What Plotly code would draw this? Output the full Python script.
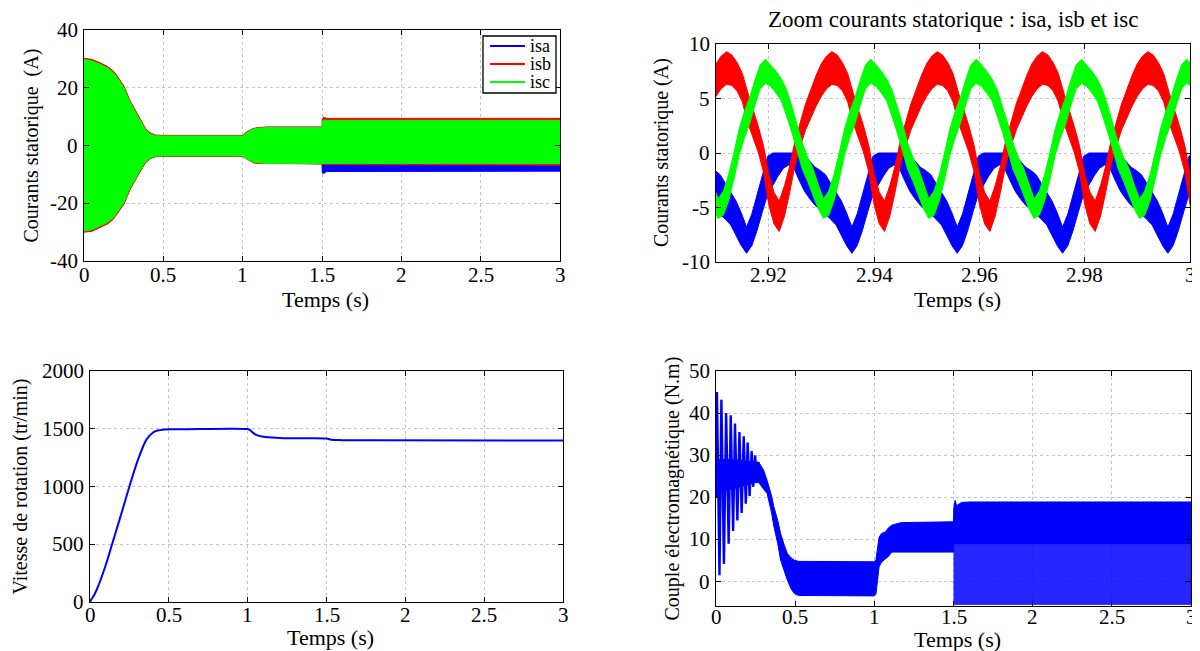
import numpy as np
import plotly.graph_objects as go

FONT = "Liberation Serif, Times New Roman, serif"

# ---------------- Courants statoriques 0-3 s (enveloppes lues) ----------------
t_is = [0, 0.05, 0.08, 0.1, 0.15, 0.185, 0.2, 0.237, 0.25, 0.29, 0.3, 0.35, 0.39, 0.42, 0.45,
        0.5, 1.0, 1.025, 1.067, 1.1, 1.15, 1.5, 1.502, 1.51, 1.53, 1.55, 3.0]
isa_up = [30.0, 29.6, 28.9, 28.5, 27.0, 25.5, 24.6, 21.6, 20.5, 15.3, 14.3, 9.3, 5.5, 4.2, 3.5,
          3.4, 3.4, 4.6, 5.8, 6.1, 6.3, 6.3, 6.3, 6.3, 6.3, 6.3, 6.3]
isa_lo = [-29.9, -29.5, -28.8, -28.3, -26.9, -25.3, -24.3, -21.3, -20.3, -15.1, -14.1, -9.2, -5.7, -4.4, -3.8,
          -3.7, -3.7, -4.7, -5.9, -6.1, -6.3, -6.3, -9.5, -9.7, -9.0, -8.9, -8.9]
isb_up = [30.2, 29.8, 29.1, 28.7, 27.3, 25.8, 24.8, 21.8, 20.7, 15.5, 14.5, 9.5, 5.7, 4.3, 3.6,
          3.5, 3.5, 4.7, 5.9, 6.2, 6.4, 6.4, 9.2, 9.8, 9.4, 9.4, 9.4]
isb_lo = [-30.0, -29.7, -29.0, -28.5, -27.1, -25.5, -24.5, -21.5, -20.5, -15.3, -14.3, -9.4, -5.8, -4.5, -3.9,
          -3.8, -3.8, -4.8, -6.0, -6.2, -6.4, -6.4, -6.6, -6.8, -6.8, -6.8, -6.8]
isc_up = [29.8, 29.3, 28.6, 28.2, 26.8, 25.3, 24.3, 21.3, 20.2, 15.0, 14.0, 9.0, 5.3, 4.0, 3.4,
          3.3, 3.3, 4.5, 5.7, 6.0, 6.2, 6.2, 8.4, 8.8, 8.6, 8.7, 8.7]
isc_lo = [-29.6, -29.2, -28.5, -28.0, -26.6, -25.0, -24.0, -21.0, -20.0, -14.8, -13.8, -9.0, -5.5, -4.3, -3.7,
          -3.6, -3.6, -4.6, -5.8, -6.0, -6.2, -6.2, -6.2, -6.3, -6.3, -6.3, -6.3]

# ---------------- Zoom courants (un cycle de 20 ms, pas 1 ms) ----------------
T_cycle_ms = 20
isa_t0 = 2.9158   # minimum de isa
isa_cyc_up = [-6.8, -5.6, -3.9, -2.0, -0.3, 0.0, 0.0, 0.0, 0.0, 0.0, 0.0, -0.2, -0.8, -1.3, -1.6, -2.0, -2.8, -3.6, -4.4, -5.5]
isa_cyc_lo = [-9.2, -8.5, -7.1, -5.4, -3.8, -2.9, -2.1, -1.4, -1.1, -1.4, -2.5, -3.5, -4.2, -4.8, -5.2, -5.6, -6.1, -6.6, -7.5, -8.5]
isb_t0 = 2.9120   # maximum de isb
isb_cyc_up = [9.3, 9.0, 8.3, 7.3, 5.6, 4.1, 2.5, 0.7, -1.9, -3.6, -4.4, -3.0, -1.2, 1.1, 2.8, 4.5, 5.8, 7.1, 8.2, 8.9]
isb_cyc_lo = [6.3, 6.2, 5.7, 4.7, 2.8, 1.5, 0.1, -1.7, -4.7, -6.5, -7.2, -5.8, -3.6, -1.1, 0.6, 2.1, 3.2, 4.3, 5.2, 5.9]
isc_t0 = 2.9104   # minimum de isc
isc_cyc_up = [-4.2, -3.5, -2.0, 0.0, 2.2, 3.8, 5.1, 6.7, 8.1, 8.6, 8.1, 7.5, 6.8, 5.8, 4.3, 2.7, 0.9, -0.4, -1.4, -2.9]
isc_cyc_lo = [-6.0, -5.7, -4.4, -2.4, -0.2, 1.4, 2.7, 4.4, 5.9, 6.4, 6.1, 5.5, 4.8, 3.4, 1.9, 0.3, -1.5, -2.6, -3.8, -5.1]

# ---------------- Vitesse ----------------
t_w = [0, 0.01, 0.03, 0.05, 0.1, 0.14, 0.2, 0.25, 0.3, 0.335, 0.36, 0.4, 0.43, 0.46, 0.5, 0.6, 1.0,
       1.01, 1.03, 1.05, 1.1, 1.2, 1.3, 1.5, 1.53, 1.6, 1.8, 3.0]
w = [0, 25, 70, 130, 320, 500, 770, 1000, 1215, 1340, 1410, 1468, 1485, 1492, 1495, 1496, 1497,
     1493, 1470, 1450, 1430, 1420, 1417, 1415, 1405, 1401, 1400, 1399]

# ---------------- Couple ----------------
t_ce_spk = [0.0, 0.006, 0.022, 0.034, 0.05, 0.064, 0.08, 0.093, 0.108, 0.12, 0.135, 0.148, 0.162,
            0.175, 0.188, 0.2, 0.212, 0.225, 0.235, 0.247, 0.258, 0.27, 0.28]
ce_spk = [20, 45, 1.5, 43.2, 4.2, 40, 9, 39.5, 12, 37.5, 14.5, 35.5, 16.3, 34.5, 18.5, 33, 20.3,
          31, 22.5, 30, 23.5, 28.3, 24]
t_ce = [0.0, 0.05, 0.1, 0.15, 0.2, 0.25, 0.27, 0.3, 0.323, 0.35, 0.366, 0.39, 0.408, 0.43, 0.45,
        0.475, 0.494, 0.52, 1.0, 1.01, 1.03, 1.045, 1.07, 1.09, 1.11, 1.17, 1.5, 1.502, 1.51,
        1.52, 1.55, 1.6, 3.0]
ce_up = [29, 29, 29, 28.8, 28.5, 28.5, 28.3, 26.5, 24.0, 20.5, 17.7, 14.5, 11.4, 8.8, 6.7,
         5.6, 5.1, 4.8, 4.7, 5.2, 10.5, 11.4, 11.8, 12.8, 13.4, 14.0, 14.2, 17.5, 19.3,
         18.0, 18.8, 18.9, 18.9]
ce_lo = [21, 21.5, 22, 22.5, 23, 23.5, 23.5, 22.0, 20.9, 16.5, 13.0, 9.0, 5.1, 2.5, 0.4,
         -1.8, -2.8, -3.3, -3.4, -3.0, 3.5, 4.6, 5.3, 6.0, 7.0, 7.0, 7.0, 9.0, 9.0,
         9.0, 9.0, 9.0, 9.0]
t_ce_sp = [1.5, 3.0]
ce_sp_up = [9.5, 9.5]
ce_sp_lo = [-5.4, -5.4]

# tick labels
tl_y_vals = [-40, -20, 0, 20, 40]
tl_y_text = ["-40", "-20", "0", "20", "40"]
tr_y_vals = [-10, -5, 0, 5, 10]
tr_y_text = ["-10", "-5", "0", "5", "10"]
tr_x_vals = [2.92, 2.94, 2.96, 2.98, 3.0]
tr_x_text = ["2.92", "2.94", "2.96", "2.98", "3"]
t_x_vals = [0, 0.5, 1, 1.5, 2, 2.5, 3]
t_x_text = ["0", "0.5", "1", "1.5", "2", "2.5", "3"]
bl_y_vals = [0, 500, 1000, 1500, 2000]
bl_y_text = ["0", "500", "1000", "1500", "2000"]
br_y_vals = [0, 10, 20, 30, 40, 50]
br_y_text = ["0", "10", "20", "30", "40", "50"]
legend_names = ["isa", "isb", "isc"]

BLUE = "rgb(0,0,255)"
RED = "rgb(255,0,0)"
GREEN = "rgb(0,255,0)"
legend_colors = [BLUE, RED, GREEN]

fig = go.Figure()


def band(t, up, lo, color, xa, ya, fillcolor=None):
    t = list(t)
    fig.add_trace(go.Scatter(
        x=t + t[::-1], y=list(up) + list(lo)[::-1], mode="lines", fill="toself",
        fillcolor=fillcolor or color, line=dict(color=fillcolor or color, width=1),
        xaxis=xa, yaxis=ya, showlegend=False, hoverinfo="skip"))


# --- top left
band(t_is, isa_up, isa_lo, BLUE, "x", "y")
band(t_is, isb_up, isb_lo, RED, "x", "y")
band(t_is, isc_up, isc_lo, GREEN, "x", "y")

# --- top right (measured cycle repeated over the window)
def periodic(t0, cyc):
    n_rep = 7
    k = np.arange(-T_cycle_ms, T_cycle_ms * (n_rep - 1) + 1)
    t = t0 + k / 1000.0
    vals = np.tile(np.array(cyc), n_rep + 1)[: len(k)]
    return t, vals

for t0, up, lo, col in [(isa_t0, isa_cyc_up, isa_cyc_lo, BLUE),
                        (isb_t0, isb_cyc_up, isb_cyc_lo, RED),
                        (isc_t0, isc_cyc_up, isc_cyc_lo, GREEN)]:
    tt, uu = periodic(t0, up)
    _, ll = periodic(t0, lo)
    band(tt, uu, ll, col, "x2", "y2")

# --- bottom left
fig.add_trace(go.Scatter(x=t_w, y=w, mode="lines", line=dict(color=BLUE, width=2, shape="spline"),
                         xaxis="x3", yaxis="y3", showlegend=False))

# --- bottom right
band(t_ce_sp, ce_sp_up, ce_sp_lo, BLUE, "x4", "y4", fillcolor="rgba(0,0,255,0.85)")
band(t_ce, ce_up, ce_lo, BLUE, "x4", "y4")
fig.add_trace(go.Scatter(x=t_ce_spk, y=ce_spk, mode="lines", line=dict(color=BLUE, width=2.4),
                         xaxis="x4", yaxis="y4", showlegend=False))

# page has an 8 px body margin: positions below are screen pixels, shifted by it
OFF = 8
W, H = 1200 - OFF, 651 - OFF

def px(X):
    return (X - OFF) / W

def py(Y):
    return 1 - (Y - OFF) / H

TICK = 21
XT = 22
YT = 20

common = dict(showline=True, linecolor="black", linewidth=1.3, mirror="ticks", ticks="inside",
              ticklen=5, tickcolor="black", showgrid=True, gridcolor="#c4c4c4", griddash="dot",
              gridwidth=1, zeroline=False, automargin=False, showticklabels=False)

panels = [
    # xa, ya, left, right, top, bottom, xrange, yrange, xvals, xtext, yvals, ytext, xtick_y, xtitle_y, ytick_right, ytitle_x, ytitle
    ("x", "y", 84, 560, 30, 261, [0, 3], [-40, 40], t_x_vals, t_x_text, tl_y_vals, tl_y_text, 275, 299, 79, 31,
     "Courants statorique \u00a0(A)"),
    ("x2", "y2", 716, 1190, 44, 262, [2.91, 3.0], [-10, 10], tr_x_vals, tr_x_text, tr_y_vals, tr_y_text, 275, 299, 711, 662,
     "Courants statorique (A)"),
    ("x3", "y3", 90, 563, 371, 602, [0, 3], [0, 2000], t_x_vals, t_x_text, bl_y_vals, bl_y_text, 615, 637, 85, 20,
     "Vitesse de rotation (tr/min)"),
    ("x4", "y4", 716, 1191, 371, 606, [0, 3], [-5.8, 50], t_x_vals, t_x_text, br_y_vals, br_y_text, 617, 639, 711, 672,
     "Couple électromagnétique (N.m)"),
]

layout_axes = {}
annotations = []
for xa, ya, L, R, T, B, xr, yr, xv, xt, yv, yt, xty, xtiy, ytr, ytix, ytitle in panels:
    xkey = "xaxis" + xa[1:]
    ykey = "yaxis" + ya[1:]
    layout_axes[xkey] = dict(domain=[px(L), px(R)], range=xr, tickvals=xv, anchor=ya, **common)
    layout_axes[ykey] = dict(domain=[py(B), py(T)], range=yr, tickvals=yv, anchor=xa, **common)
    for v, s in zip(xv, xt):
        annotations.append(dict(text=s, x=v, xref=xa, y=py(xty), yref="paper", showarrow=False,
                                xanchor="center", yanchor="middle", borderpad=0,
                                font=dict(family=FONT, size=TICK, color="black")))
    for v, s in zip(yv, yt):
        annotations.append(dict(text=s, x=px(ytr), xref="paper", y=v, yref=ya, showarrow=False,
                                xanchor="right", yanchor="middle", borderpad=0,
                                font=dict(family=FONT, size=TICK, color="black")))
    annotations.append(dict(text="Temps (s)", x=px((L + R) / 2 + 4), xref="paper", y=py(xtiy), yref="paper",
                            showarrow=False, xanchor="center", yanchor="middle", borderpad=0,
                            font=dict(family=FONT, size=XT, color="black")))
    annotations.append(dict(text=ytitle, x=px(ytix), xref="paper", y=py((T + B) / 2), yref="paper",
                            showarrow=False, xanchor="center", yanchor="middle", textangle=-90, borderpad=0,
                            font=dict(family=FONT, size=YT, color="black")))

annotations.append(dict(text="Zoom courants statorique : isa, isb et isc", x=px(953), y=py(19),
                        xref="paper", yref="paper", showarrow=False, xanchor="center", yanchor="middle",
                        font=dict(family=FONT, size=23, color="black")))

# legend box (top-left panel)
shapes = [dict(type="rect", xref="paper", yref="paper", x0=px(483), x1=px(556), y0=py(93), y1=py(36),
               line=dict(color="black", width=1.3), fillcolor="white", layer="above")]
for i, (nm, col) in enumerate(zip(legend_names, legend_colors)):
    yy = 46 + 18 * i
    shapes.append(dict(type="line", xref="paper", yref="paper", x0=px(490), x1=px(525), y0=py(yy), y1=py(yy),
                       line=dict(color=col, width=2), layer="above"))
    annotations.append(dict(text=nm, x=px(529), y=py(yy), xref="paper", yref="paper", showarrow=False,
                            xanchor="left", yanchor="middle", borderpad=0,
                            font=dict(family=FONT, size=18, color="black")))

fig.update_layout(
    width=W, height=H, margin=dict(l=0, r=0, t=0, b=0),
    paper_bgcolor="white", plot_bgcolor="white", showlegend=False,
    font=dict(family=FONT, color="black", size=21),
    annotations=annotations, shapes=shapes, **layout_axes,
)

fig.write_html("out.html")
